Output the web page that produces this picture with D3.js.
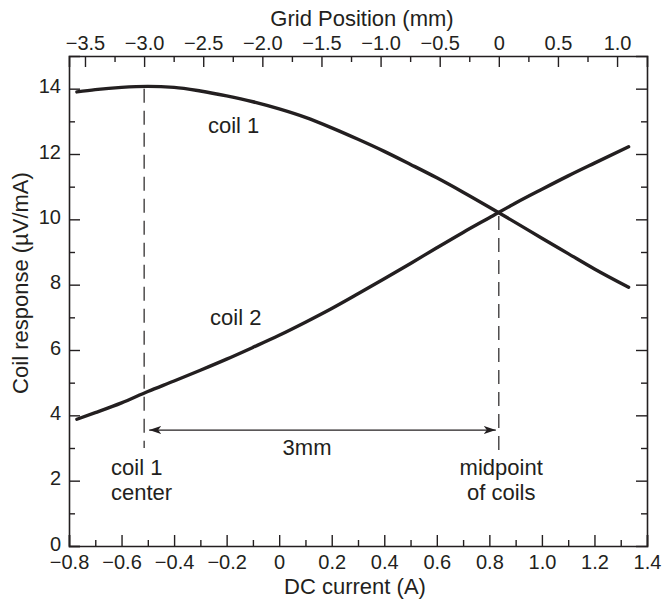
<!DOCTYPE html>
<html>
<head>
<meta charset="utf-8">
<script src="https://cdn.jsdelivr.net/npm/d3@7/dist/d3.min.js"></script>
<style>
  html, body { margin: 0; padding: 0; background: #fff; }
  svg { display: block; }
  text { font-family: "Liberation Sans", Arial, Helvetica, sans-serif; fill: #231f20; }
</style>
</head>
<body>
<svg id="chart" width="663" height="599"></svg>
<script>
// ---- data ----
const current = [-0.77, -0.7, -0.6, -0.5, -0.4, -0.3, -0.2, -0.1, 0.0, 0.1, 0.2, 0.3, 0.4, 0.5, 0.6, 0.7, 0.8, 0.9, 1.0, 1.1, 1.2, 1.33];
const coil1 = [13.9, 13.97, 14.04, 14.07, 14.04, 13.93, 13.78, 13.6, 13.38, 13.12, 12.8, 12.45, 12.08, 11.68, 11.27, 10.83, 10.37, 9.9, 9.42, 8.95, 8.48, 7.92];
const coil2 = [3.88, 4.08, 4.38, 4.73, 5.05, 5.38, 5.72, 6.08, 6.45, 6.85, 7.27, 7.72, 8.18, 8.65, 9.13, 9.6, 10.05, 10.5, 10.92, 11.33, 11.72, 12.22];

const xTicks = [-0.8, -0.6, -0.4, -0.2, 0, 0.2, 0.4, 0.6, 0.8, 1.0, 1.2, 1.4];
const yTicks = [0, 2, 4, 6, 8, 10, 12, 14];
const topTicks = [-3.5, -3.0, -2.5, -2.0, -1.5, -1.0, -0.5, 0, 0.5, 1.0];

// grid position (mm) = (current - zeroCurrent) * mmPerAmp
const zeroCurrent = 0.836;   // current at grid position 0 (midpoint of coils)
const mmPerAmp = 2.222;
const coil1CenterCurrent = -0.514; // grid position -3.0 mm

// vertical markers: [current, top value, bottom value]
const markers = [
  [coil1CenterCurrent, 14.0, 3.0],
  [zeroCurrent, 10.1, 2.85]
];
const arrowY = 3.55;
const labels = [
  { text: "coil 1", x: -0.271, y: 12.64, anchor: "start" },
  { text: "coil 2", x: -0.263, y: 6.76, anchor: "start" },
  { text: "3mm", x: 0.106, y: 2.79, anchor: "middle" },
  { text: "coil 1", x: -0.64, y: 2.17, anchor: "start" },
  { text: "center", x: -0.64, y: 1.41, anchor: "start" },
  { text: "midpoint", x: 0.845, y: 2.17, anchor: "middle" },
  { text: "of coils", x: 0.845, y: 1.41, anchor: "middle" }
];

// ---- layout ----
const svg = d3.select("#chart");
const L = 69, R = 647, T = 56, B = 546;
const x = d3.scaleLinear().domain([-0.8, 1.4]).range([L, R]);
const y = d3.scaleLinear().domain([0, 15]).range([B, T]);
const xTop = d3.scaleLinear()
  .domain([(-0.8 - zeroCurrent) * mmPerAmp, (1.4 - zeroCurrent) * mmPerAmp])
  .range([L, R]);

const fmt = d => (Math.abs(d) < 1e-9 ? "0" : d.toFixed(1).replace("-", "\u2212"));
const ink = "#231f20";
const majorLen = 11, minorLen = 6;
const FONT = '"Liberation Sans", Arial, Helvetica, sans-serif';

function minorBetween(ticks, step) {
  const m = [];
  for (let i = 0; i < ticks.length - 1; i++) m.push(ticks[i] + step);
  return m;
}

// bottom axis
const gB = svg.append("g").attr("transform", `translate(0,${B})`);
gB.call(d3.axisBottom(x).tickValues(xTicks).tickFormat(fmt).tickSize(-majorLen).tickPadding(9));
gB.append("g").call(d3.axisBottom(x).tickValues(minorBetween(xTicks, 0.1)).tickFormat("").tickSize(-minorLen))
  .select(".domain").remove();

// top axis
const topMinor = [];
for (let v = -3.75; v <= 1.26; v += 0.5) topMinor.push(v);
const gT = svg.append("g").attr("transform", `translate(0,${T})`);
gT.call(d3.axisTop(xTop).tickValues(topTicks).tickFormat(fmt).tickSize(-majorLen).tickPadding(6));
gT.append("g").call(d3.axisTop(xTop).tickValues(topMinor.filter(v => xTop(v) > L + 2 && xTop(v) < R - 2)).tickFormat("").tickSize(-minorLen))
  .select(".domain").remove();

// left axis
const yMinor = minorBetween(yTicks, 1);
const gL = svg.append("g").attr("transform", `translate(${L},0)`);
gL.call(d3.axisLeft(y).tickValues(yTicks).tickSize(-majorLen).tickPadding(8));
gL.append("g").call(d3.axisLeft(y).tickValues(yMinor).tickFormat("").tickSize(-minorLen))
  .select(".domain").remove();

// right axis
const gR = svg.append("g").attr("transform", `translate(${R},0)`);
gR.call(d3.axisRight(y).tickValues(yTicks.filter(v => v > 0)).tickFormat("").tickSize(-majorLen));
gR.append("g").call(d3.axisRight(y).tickValues(yMinor).tickFormat("").tickSize(-minorLen))
  .select(".domain").remove();

svg.selectAll(".domain").attr("stroke", ink).attr("stroke-width", 1.6);
svg.selectAll(".tick line").attr("stroke", ink).attr("stroke-width", 1.4);
svg.selectAll(".tick text").attr("font-size", 20).attr("fill", ink).attr("font-family", FONT);
gL.selectAll(".tick text").attr("dy", "0.2em");

// axis titles
svg.append("text").attr("x", 355).attr("y", 594).attr("text-anchor", "middle")
  .attr("font-size", 22).text("DC current (A)");
svg.append("text").attr("x", 362).attr("y", 26).attr("text-anchor", "middle")
  .attr("font-size", 22).text("Grid Position (mm)");
svg.append("text").attr("transform", `translate(28,${283}) rotate(-90)`).attr("text-anchor", "middle")
  .attr("font-size", 22).text("Coil response (\u00b5V/mA)");

// curves
const line = d3.line().x(d => x(d[0])).y(d => y(d[1])).curve(d3.curveMonotoneX);
[coil1, coil2].forEach(series => {
  svg.append("path")
    .datum(current.map((c, i) => [c, series[i]]))
    .attr("d", line)
    .attr("fill", "none").attr("stroke", ink)
    .attr("stroke-width", 3.4).attr("stroke-linecap", "round").attr("stroke-linejoin", "round");
});

// dashed markers
markers.forEach(m => {
  svg.append("line")
    .attr("x1", x(m[0])).attr("x2", x(m[0]))
    .attr("y1", y(m[1])).attr("y2", y(m[2]))
    .attr("stroke", ink).attr("stroke-width", 1.2).attr("stroke-dasharray", "14,8");
});

// double arrow
const defs = svg.append("defs");
defs.append("marker").attr("id", "ah").attr("viewBox", "0 0 12 8")
  .attr("refX", 12).attr("refY", 4).attr("markerWidth", 12).attr("markerHeight", 8)
  .attr("markerUnits", "userSpaceOnUse").attr("orient", "auto-start-reverse")
  .append("path").attr("d", "M0,0 L12,4 L0,8 L3,4 Z").attr("fill", ink);
svg.append("line")
  .attr("x1", x(coil1CenterCurrent) + 5).attr("x2", x(zeroCurrent) - 3)
  .attr("y1", y(arrowY)).attr("y2", y(arrowY))
  .attr("stroke", ink).attr("stroke-width", 1.2)
  .attr("marker-start", "url(#ah)").attr("marker-end", "url(#ah)");

// labels
svg.selectAll("text.ann").data(labels).enter().append("text")
  .attr("class", "ann")
  .attr("x", d => x(d.x)).attr("y", d => y(d.y))
  .attr("text-anchor", d => d.anchor)
  .attr("font-size", 22)
  .text(d => d.text);
</script>
</body>
</html>
